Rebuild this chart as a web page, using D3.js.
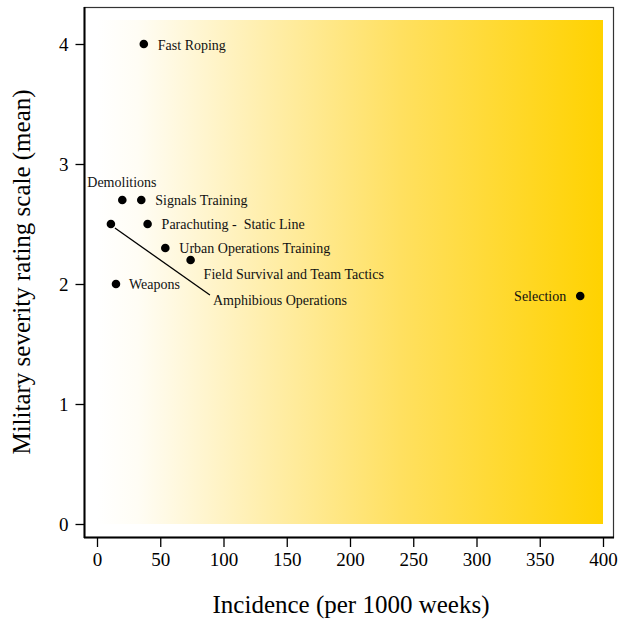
<!DOCTYPE html>
<html>
<head>
<meta charset="utf-8">
<script src="https://cdn.jsdelivr.net/npm/d3@7"></script>
<style>
  body { margin: 0; background: #fff; }
  svg { display: block; font-family: "Liberation Serif", "DejaVu Serif", serif; }
  .lbl { white-space: pre; }
</style>
</head>
<body>
<svg id="chart" width="618" height="620"></svg>
<script>
// ---- data ----
const activities = ["Fast Roping", "Demolitions", "Signals Training", "Parachuting -  Static Line",
  "Amphibious Operations", "Urban Operations Training", "Field Survival and Team Tactics",
  "Weapons", "Selection"];
const incidence = [37, 20, 35, 40, 11, 54, 74, 15, 382];
const severity  = [4.0, 2.7, 2.7, 2.5, 2.5, 2.3, 2.2, 2.0, 1.9];
const xTicks = [0, 50, 100, 150, 200, 250, 300, 350, 400];
const yTicks = [0, 1, 2, 3, 4];

// label placement (pixel offsets from the point), anchor
const labelDx = [14, -35, 14, 14, 102, 14, 13, 13, -14];
const labelDy = [1, -18, 0, 0, 76, 0, 14, 0, 0];
const labelAnchor = ["start", "start", "start", "start", "start", "start", "start", "start", "end"];

// ---- layout ----
const svg = d3.select("#chart");
const x = d3.scaleLinear().domain([0, 400]).range([97, 603]);
const y = d3.scaleLinear().domain([0, 4]).range([524, 44]);

// gradient background
const defs = svg.append("defs");
const grad = defs.append("linearGradient").attr("id", "bg").attr("x1", "0").attr("x2", "1").attr("y1", "0").attr("y2", "0");
grad.append("stop").attr("offset", "0").attr("stop-color", "#ffffff");
grad.append("stop").attr("offset", "0.08").attr("stop-color", "#fffdf5");
grad.append("stop").attr("offset", "0.3").attr("stop-color", "#fff0b5");
grad.append("stop").attr("offset", "0.6").attr("stop-color", "#ffe060");
grad.append("stop").attr("offset", "1").attr("stop-color", "#ffd200");

svg.append("rect")
  .attr("x", x(0)).attr("y", y(4.2))
  .attr("width", x(400) - x(0)).attr("height", y(0) - y(4.2))
  .attr("fill", "url(#bg)");

// box
svg.append("rect")
  .attr("x", 84.5).attr("y", 7.5).attr("width", 529).attr("height", 530)
  .attr("fill", "none").attr("stroke", "#333").attr("stroke-width", 1.2);
svg.append("line").attr("x1", 84.5).attr("x2", 84.5).attr("y1", 7).attr("y2", 538)
  .attr("stroke", "#000").attr("stroke-width", 2);
svg.append("line").attr("x1", 84).attr("x2", 614).attr("y1", 537.5).attr("y2", 537.5)
  .attr("stroke", "#000").attr("stroke-width", 2);

// axes
const xAxis = d3.axisBottom(x).tickValues(xTicks).tickSize(9).tickPadding(6).tickFormat(d3.format("d"));
const gx = svg.append("g").attr("transform", "translate(0,538)").call(xAxis);
gx.select(".domain").remove();
gx.selectAll(".tick line").attr("stroke", "#000").attr("stroke-width", 1.3);
gx.selectAll("text").attr("font-size", 19).attr("fill", "#000").attr("font-family", "Liberation Serif, serif");

const yAxis = d3.axisLeft(y).tickValues(yTicks).tickSize(9).tickPadding(7).tickFormat(d3.format("d"));
const gy = svg.append("g").attr("transform", "translate(84.5,0)").call(yAxis);
gy.select(".domain").remove();
gy.selectAll(".tick line").attr("stroke", "#000").attr("stroke-width", 1.3);
gy.selectAll("text").attr("font-size", 19).attr("fill", "#000").attr("font-family", "Liberation Serif, serif");

// axis titles
svg.append("text").attr("x", 351).attr("y", 613).attr("text-anchor", "middle")
  .attr("font-size", 25).attr("fill", "#000").text("Incidence (per 1000 weeks)");
svg.append("text").attr("transform", "translate(30,272) rotate(-90)").attr("text-anchor", "middle")
  .attr("font-size", 25).attr("fill", "#000").text("Military severity rating scale (mean)");

// leader line for Amphibious Operations
const ai = activities.indexOf("Amphibious Operations");
svg.append("line")
  .attr("x1", x(incidence[ai]) + 4).attr("y1", y(severity[ai]) + 4)
  .attr("x2", x(incidence[ai]) + labelDx[ai] - 3).attr("y2", y(severity[ai]) + labelDy[ai] - 5)
  .attr("stroke", "#000").attr("stroke-width", 1.3);

// points
const idx = d3.range(activities.length);
svg.append("g").selectAll("circle").data(idx).join("circle")
  .attr("cx", i => x(incidence[i])).attr("cy", i => y(severity[i])).attr("r", 4.3).attr("fill", "#000");

// labels
svg.append("g").selectAll("text").data(idx).join("text")
  .attr("class", "lbl")
  .attr("x", i => x(incidence[i]) + labelDx[i])
  .attr("y", i => y(severity[i]) + labelDy[i])
  .attr("dy", "0.35em")
  .attr("text-anchor", i => labelAnchor[i])
  .attr("font-size", 14).attr("fill", "#111")
  .text(i => activities[i]);
</script>
</body>
</html>
